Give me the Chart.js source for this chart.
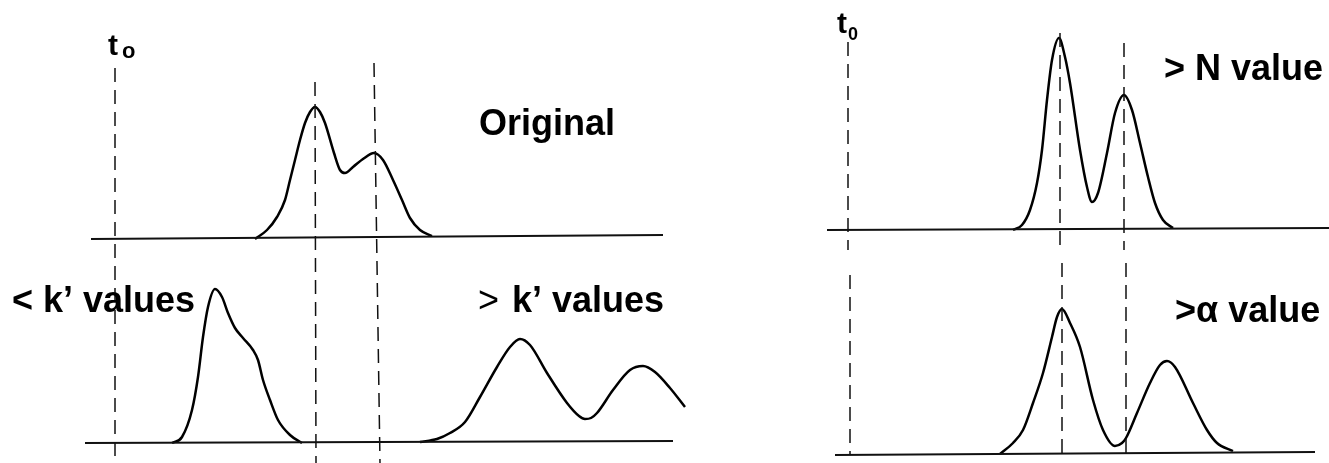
<!DOCTYPE html>
<html>
<head>
<meta charset="utf-8">
<title>Chromatogram resolution schematic</title>
<script src="https://cdn.jsdelivr.net/npm/chart.js@4/dist/chart.umd.min.js"></script>
<style>
    html, body { margin: 0; padding: 0; background: #fff; }
    #wrap { position: absolute; left: 0; top: 0; width: 1329px; height: 463px; }
</style>
</head>
<body>
<div id="wrap"><canvas id="chromChart"></canvas></div>
<script>
// Retention time (arbitrary units, t0 = 0) and detector signal (baseline = 0)

// Original (top left)
const originalTime   = [1.40, 1.52, 1.62, 1.70, 1.75, 1.80, 1.85, 1.90, 1.95, 2.00, 2.05, 2.10, 2.19, 2.25, 2.30, 2.38, 2.48, 2.59, 2.68, 2.78, 2.87, 2.95, 3.05, 3.17];
const originalSignal = [0.00, 0.09, 0.22, 0.39, 0.59, 0.79, 0.99, 1.16, 1.27, 1.32, 1.27, 1.16, 0.86, 0.69, 0.66, 0.72, 0.80, 0.86, 0.79, 0.59, 0.39, 0.21, 0.09, 0.03];

// < k' values (bottom left, first trace)
const lowKTime   = [0.57, 0.67, 0.77, 0.83, 0.88, 0.93, 1.00, 1.07, 1.13, 1.20, 1.28, 1.38, 1.43, 1.48, 1.55, 1.63, 1.75, 1.87];
const lowKSignal = [0.00, 0.06, 0.33, 0.66, 1.06, 1.36, 1.54, 1.46, 1.30, 1.15, 1.05, 0.93, 0.83, 0.63, 0.43, 0.23, 0.08, 0.00];

// > k' values (bottom left, second trace)
const highKTime   = [3.05, 3.22, 3.35, 3.50, 3.65, 3.82, 3.95, 4.05, 4.15, 4.32, 4.52, 4.64, 4.70, 4.76, 4.82, 4.98, 5.15, 5.28, 5.40, 5.55, 5.70];
const highKSignal = [0.01, 0.04, 0.10, 0.21, 0.46, 0.76, 0.96, 1.04, 0.98, 0.70, 0.40, 0.27, 0.24, 0.25, 0.30, 0.53, 0.73, 0.77, 0.71, 0.55, 0.36];

// > N value (top right)
const highNTime   = [1.65, 1.74, 1.82, 1.89, 1.94, 1.99, 2.04, 2.11, 2.17, 2.22, 2.32, 2.39, 2.44, 2.50, 2.59, 2.67, 2.76, 2.84, 2.92, 3.00, 3.07, 3.15, 3.25];
const highNSignal = [0.00, 0.05, 0.20, 0.47, 0.80, 1.30, 1.70, 1.92, 1.73, 1.47, 0.80, 0.43, 0.28, 0.37, 0.77, 1.17, 1.35, 1.20, 0.87, 0.53, 0.27, 0.10, 0.02];

// > alpha value (bottom right)
const highAlphaTime   = [1.52, 1.65, 1.75, 1.85, 1.95, 2.04, 2.09, 2.14, 2.22, 2.32, 2.45, 2.55, 2.67, 2.74, 2.78, 2.89, 3.02, 3.12, 3.19, 3.27, 3.45, 3.59, 3.69, 3.85];
const highAlphaSignal = [0.01, 0.12, 0.25, 0.52, 0.82, 1.18, 1.38, 1.46, 1.32, 1.08, 0.55, 0.25, 0.09, 0.12, 0.17, 0.42, 0.72, 0.90, 0.94, 0.88, 0.52, 0.25, 0.12, 0.04];

// Baselines: [start time, end time], [start signal, end signal]
const baselineTL = [[-0.24, 5.48], [0, 0.04]];
const baselineBL = [[-0.30, 5.58], [0, 0.02]];
const baselineTR = [[-0.21, 4.81], [0, 0.02]];
const baselineBR = [[-0.13, 4.67], [0, 0.03]];

// Retention markers (dashed): [top time, bottom time], [top signal, bottom signal]
const markersLeft = [
    [[0.00, 0.00], [1.71, -2.24]],   // t0
    [[2.00, 2.01], [1.57, -2.24]],   // peak 1
    [[2.59, 2.65], [1.76, -2.24]]    // peak 2
];
const markersTopRight = [
    [[0.00, 0.00], [1.88, -0.20]],
    [[2.12, 2.12], [1.97, -0.20]],
    [[2.76, 2.76], [1.87, -0.20]]
];
const markersBottomRight = [
    [[0.02, 0.02], [1.80, 0.00]],
    [[2.14, 2.14], [1.92, 0.00]],
    [[2.78, 2.78], [1.92, 0.00]]
];

// Text labels: text, time, signal, axes, font
const labels = [
    { text: 't', x: -0.07, y: 1.84, xAxis: 'xL', yAxis: 'yTL', font: 'bold 30px "Liberation Sans", Arial, sans-serif' },
    { text: 'o', x: 0.07, y: 1.81, xAxis: 'xL', yAxis: 'yTL', font: 'bold 22px "Liberation Sans", Arial, sans-serif' },
    { text: 'Original', x: 3.64, y: 1.04, xAxis: 'xL', yAxis: 'yTL', font: 'bold 36px "Liberation Sans", Arial, sans-serif' },
    { text: '< k’ values', x: -1.03, y: 1.31, xAxis: 'xL', yAxis: 'yBL', font: 'bold 36px "Liberation Sans", Arial, sans-serif' },
    { text: '>', x: 3.63, y: 1.31, xAxis: 'xL', yAxis: 'yBL', font: '36px "Liberation Sans", Arial, sans-serif' },
    { text: 'k’ values', x: 3.97, y: 1.31, xAxis: 'xL', yAxis: 'yBL', font: 'bold 36px "Liberation Sans", Arial, sans-serif' },
    { text: 't', x: -0.11, y: 1.97, xAxis: 'xR', yAxis: 'yTR', font: 'bold 30px "Liberation Sans", Arial, sans-serif' },
    { text: '0', x: 0.00, y: 1.90, xAxis: 'xR', yAxis: 'yTR', font: 'bold 18px "Liberation Sans", Arial, sans-serif' },
    { text: '> N value', x: 3.16, y: 1.50, xAxis: 'xR', yAxis: 'yTR', font: 'bold 36px "Liberation Sans", Arial, sans-serif' },
    { text: '>α value', x: 3.27, y: 1.33, xAxis: 'xR', yAxis: 'yBR', font: 'bold 36px "Liberation Sans", Arial, sans-serif' }
];

function toPoints(xs, ys) {
    return xs.map((x, i) => ({ x: x, y: ys[i] }));
}

function trace(xs, ys, xAxis, yAxis) {
    return {
        data: toPoints(xs, ys),
        xAxisID: xAxis,
        yAxisID: yAxis,
        showLine: true,
        borderColor: '#000',
        borderWidth: 2.5,
        pointRadius: 0,
        cubicInterpolationMode: 'monotone'
    };
}

function baseline(seg, xAxis, yAxis) {
    return {
        data: toPoints(seg[0], seg[1]),
        xAxisID: xAxis,
        yAxisID: yAxis,
        showLine: true,
        borderColor: '#111',
        borderWidth: 1.8,
        pointRadius: 0
    };
}

function marker(seg, xAxis, yAxis) {
    return {
        data: toPoints(seg[0], seg[1]),
        xAxisID: xAxis,
        yAxisID: yAxis,
        showLine: true,
        borderColor: '#111',
        borderWidth: 1.5,
        borderDash: [14, 8],
        pointRadius: 0
    };
}

const datasets = [
    baseline(baselineTL, 'xL', 'yTL'),
    baseline(baselineBL, 'xL', 'yBL'),
    baseline(baselineTR, 'xR', 'yTR'),
    baseline(baselineBR, 'xR', 'yBR'),
    ...markersLeft.map(m => marker(m, 'xL', 'yTL')),
    ...markersTopRight.map(m => marker(m, 'xR', 'yTR')),
    ...markersBottomRight.map(m => marker(m, 'xR', 'yBR')),
    trace(originalTime, originalSignal, 'xL', 'yTL'),
    trace(lowKTime, lowKSignal, 'xL', 'yBL'),
    trace(highKTime, highKSignal, 'xL', 'yBL'),
    trace(highNTime, highNSignal, 'xR', 'yTR'),
    trace(highAlphaTime, highAlphaSignal, 'xR', 'yBR')
];

const labelPlugin = {
    id: 'panelLabels',
    afterDatasetsDraw(chart) {
        const ctx = chart.ctx;
        ctx.save();
        ctx.fillStyle = '#000';
        ctx.textAlign = 'left';
        ctx.textBaseline = 'alphabetic';
        labels.forEach(l => {
            ctx.font = l.font;
            ctx.fillText(l.text,
                chart.scales[l.xAxis].getPixelForValue(l.x),
                chart.scales[l.yAxis].getPixelForValue(l.y));
        });
        ctx.restore();
    }
};

// every axis spans the full canvas; hidden, they only place the panels
const hidden = { type: 'linear', display: false };

new Chart(document.getElementById('chromChart').getContext('2d'), {
    type: 'scatter',
    data: { datasets: datasets },
    options: {
        responsive: true,
        maintainAspectRatio: false,
        animation: false,
        layout: { padding: 0 },
        plugins: {
            legend: { display: false },
            tooltip: { enabled: false }
        },
        scales: {
            xL:  { ...hidden, axis: 'x', position: 'bottom', min: -1.15, max: 12.14 },
            xR:  { ...hidden, axis: 'x', position: 'bottom', min: -8.48, max: 4.81 },
            yTL: { ...hidden, axis: 'y', position: 'left', min: -2.24, max: 2.39 },
            yBL: { ...hidden, axis: 'y', position: 'left', min: -0.20, max: 4.43 },
            yTR: { ...hidden, axis: 'y', position: 'left', min: -2.33, max: 2.30 },
            yBR: { ...hidden, axis: 'y', position: 'left', min: -0.08, max: 4.55 }
        }
    },
    plugins: [labelPlugin]
});
</script>
</body>
</html>
